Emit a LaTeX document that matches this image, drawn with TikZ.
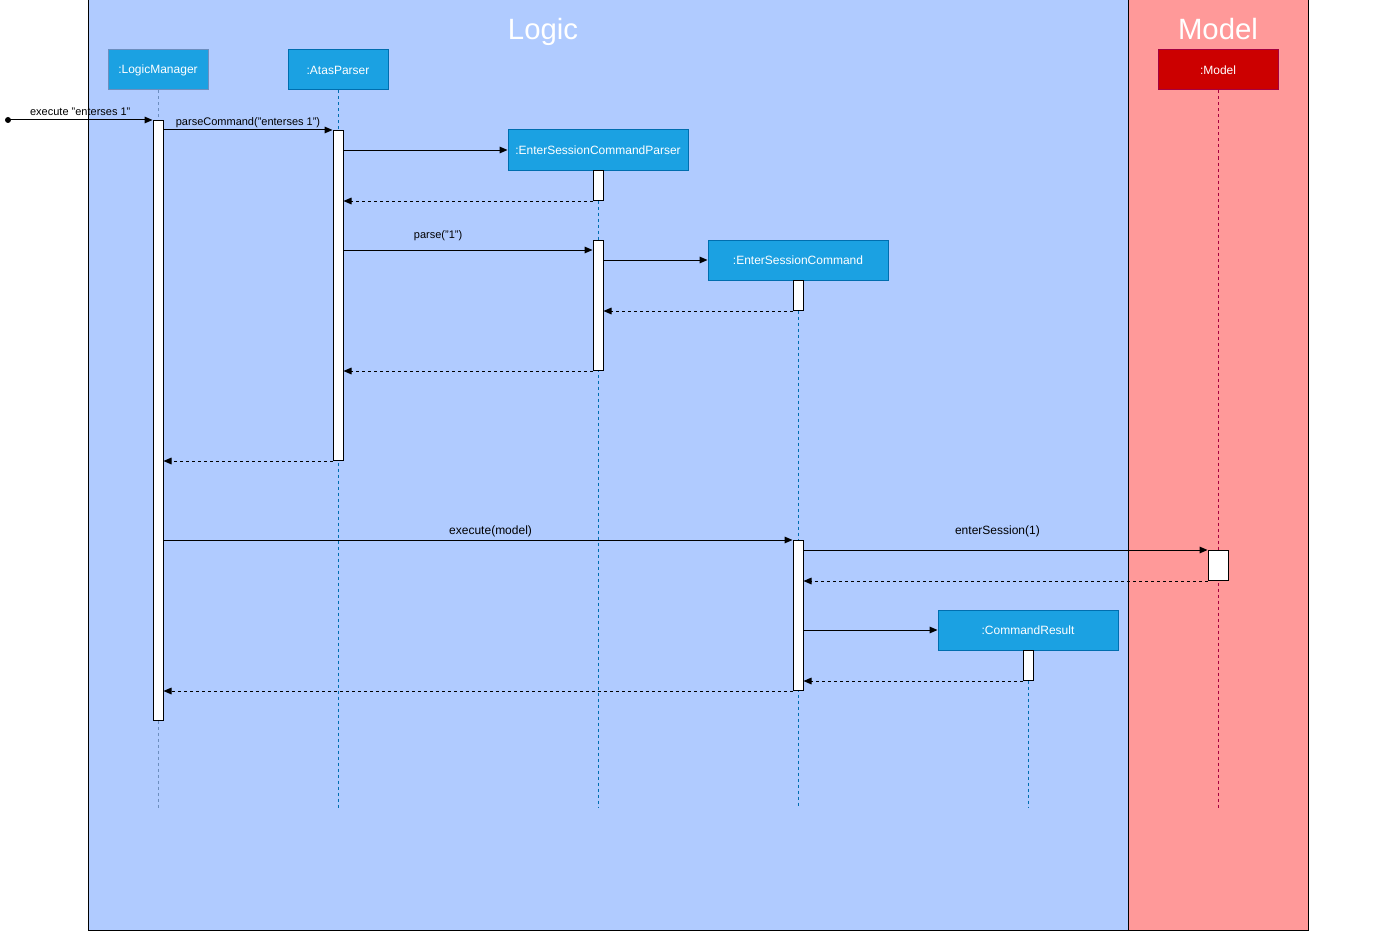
\documentclass[tikz,border=0pt]{standalone}
\usepackage{fontspec}
\setmainfont{Liberation Sans}
\usetikzlibrary{arrows.meta,positioning,calc}
\definecolor{logicbg}{HTML}{B0CBFF}
\definecolor{modelbg}{HTML}{FF9999}
\definecolor{actorfill}{HTML}{1BA1E2}
\definecolor{actorline}{HTML}{006EAF}
\definecolor{lmline}{HTML}{6C8EBF}
\definecolor{modelfill}{HTML}{CC0000}
\definecolor{modelline}{HTML}{A50040}

\begin{document}
\begin{tikzpicture}[
    x=0.75pt, y=-0.75pt,
    frame/.style={draw=black, line width=0.75pt},
    frametitle/.style={text=white, font=\fontsize{22}{24}\selectfont, inner sep=0pt, anchor=base},
    actor/.style={rectangle, draw=actorline, fill=actorfill, text=white, line width=0.75pt, minimum width=75pt, minimum height=30pt, inner sep=0pt, font=\fontsize{9}{10}\selectfont},
    wideactor/.style={actor, minimum width=135pt},
    life/.style={draw=actorline, line width=0.75pt, dash pattern=on 2.25pt off 2.25pt},
    bar/.style={rectangle, draw=black, fill=white, line width=0.75pt, minimum width=7.5pt, inner sep=0pt, anchor=north},
    msg/.style={-{Triangle[length=6pt,width=5pt]}, line width=0.75pt, draw=black},
    ret/.style={msg, dash pattern=on 2.25pt off 2.25pt},
    lbl/.style={inner sep=1pt, font=\fontsize{8.25}{9}\selectfont},
    biglbl/.style={inner sep=1pt, font=\fontsize{9}{10}\selectfont}
]
    \useasboundingbox (0,0) rectangle (1379,931);
    \draw [frame, fill=logicbg] (88,0) rectangle (1128,930);
    \draw [frame, fill=modelbg] (1128,0) rectangle (1308,930);
    \node [frametitle] (logict) at (543,40) {Logic};
    \node [frametitle] (modelt) at (1218,40) {Model};

    \node [actor, draw=lmline] (lm) at (158,70) {:LogicManager};
    \node [actor] (ap) at (338,70) {:AtasParser};
    \node [wideactor] (escp) at (598,150) {:EnterSessionCommandParser};
    \node [wideactor] (esc) at (798,260) {:EnterSessionCommand};
    \node [wideactor] (cr) at (1028,630) {:CommandResult};
    \node [actor, fill=modelfill, draw=modelline, minimum width=90pt] (mod) at (1218,70) {:Model};

    \coordinate (bottom) at (0,808);
    \draw [life, draw=lmline] (lm.south) -- (lm.south |- bottom);
    \draw [life] (ap.south) -- (ap.south |- bottom);
    \draw [life] (escp.south) -- (escp.south |- bottom);
    \draw [life] (esc.south) -- (esc.south |- bottom);
    \draw [life] (cr.south) -- (cr.south |- bottom);
    \draw [life, draw=modelline] (mod.south) -- (mod.south |- bottom);

    \node [bar, minimum height=450pt] (lm1) at (158,120) {};
    \node [bar, minimum height=247.5pt] (ap1) at (338,130) {};
    \node [bar, minimum height=22.5pt] (escp1) at (598,170) {};
    \node [bar, minimum height=97.5pt] (escp2) at (598,240) {};
    \node [bar, minimum height=22.5pt] (esc1) at (798,280) {};
    \node [bar, minimum height=112.5pt] (esc2) at (798,540) {};
    \node [bar, minimum height=22.5pt, minimum width=15pt] (mod1) at (1218,550) {};
    \node [bar, minimum height=22.5pt] (cr1) at (1028,650) {};

    \coordinate (start) at (8,120);
    \fill (start) circle (2.25pt);
    \draw [msg] (start) -- node [lbl, above=1.75pt] {execute "enterses 1"} (lm1.north west);
    \draw [msg] (lm1.east |- ap1.north) -- node [lbl, above=0.25pt] {parseCommand("enterses 1")} (ap1.north west);
    \draw [msg] (ap1.east |- escp.west) -- (escp.west);
    \draw [ret] (escp1.south west) -- (ap1.east |- escp1.south);
    \draw [msg] ($(ap1.east |- escp2.north)+(0,10)$) -- node [lbl, pos=0.38, above=5.75pt] {parse("1")} ($(escp2.north west)+(0,10)$);
    \draw [msg] (escp2.east |- esc.west) -- (esc.west);
    \draw [ret] (esc1.south west) -- (escp2.east |- esc1.south);
    \draw [ret] (escp2.south west) -- (ap1.east |- escp2.south);
    \draw [ret] (ap1.south west) -- (lm1.east |- ap1.south);
    \draw [msg] (lm1.east |- esc2.north) -- node [biglbl, pos=0.52, above=0.75pt] {execute(model)} (esc2.north west);
    \draw [msg] (esc2.east |- mod1.north) -- node [biglbl, pos=0.48, above=8.75pt] {enterSession(1)} (mod1.north west);
    \draw [ret] (mod1.south west) -- (esc2.east |- mod1.south);
    \draw [msg] (esc2.east |- cr.west) -- (cr.west);
    \draw [ret] (cr1.south west) -- (esc2.east |- cr1.south);
    \draw [ret] (esc2.south west) -- (lm1.east |- esc2.south);
\end{tikzpicture}
\end{document}
